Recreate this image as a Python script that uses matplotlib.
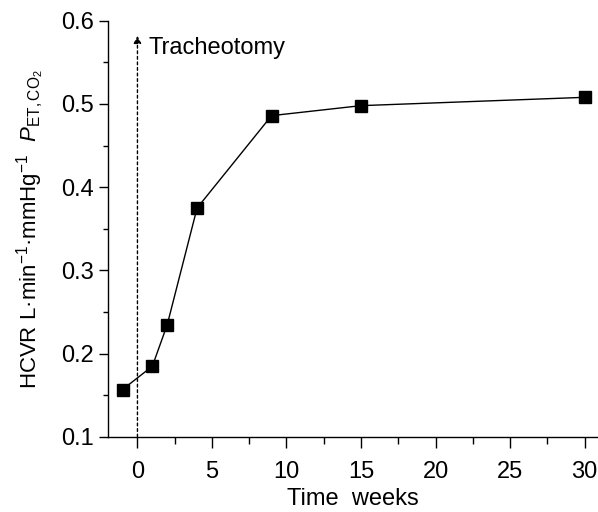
import matplotlib
matplotlib.use('Agg')
import matplotlib.pyplot as plt
from matplotlib.ticker import MultipleLocator

# Daten
weeks = [-1, 1, 2, 4, 9, 15, 30]
hcvr = [0.157, 0.185, 0.235, 0.375, 0.486, 0.498, 0.508]

xticks = [0, 5, 10, 15, 20, 25, 30]
yticks = [0.1, 0.2, 0.3, 0.4, 0.5, 0.6]

plt.rcParams['font.family'] = ['Liberation Sans', 'DejaVu Sans']
plt.rcParams['mathtext.fontset'] = 'custom'
plt.rcParams['mathtext.rm'] = 'Liberation Sans'
plt.rcParams['mathtext.it'] = 'Liberation Sans:italic'

fig = plt.figure(figsize=(5.98, 5.12), dpi=100)
ax = fig.add_axes([0.181, 0.1465, 0.819, 0.813])

ax.plot(weeks, hcvr, color='black', linewidth=1.0, marker='s', markersize=8)

# Tracheotomie-Pfeil
ax.annotate('', xy=(0, 0.582), xytext=(0, 0.1),
            arrowprops=dict(arrowstyle='-|>', linestyle=(0, (2, 2)), color='black',
                            linewidth=1.0, mutation_scale=11, shrinkA=0, shrinkB=0))
ax.text(0.75, 0.567, 'Tracheotomy', fontsize=17, va='center', ha='left')

ax.set_xlim(-1.96, 30.9)
ax.set_ylim(0.1, 0.6)
ax.set_xticks(xticks)
ax.set_yticks(yticks)
ax.set_yticklabels([f'{v:.1f}' for v in yticks])
ax.xaxis.set_minor_locator(MultipleLocator(2.5))
ax.yaxis.set_minor_locator(MultipleLocator(0.05))

for s in ['top', 'right']:
    ax.spines[s].set_visible(False)
for s in ['left', 'bottom']:
    ax.spines[s].set_linewidth(1.0)

ax.tick_params(axis='x', which='major', length=8, width=1.0, labelsize=17, pad=9)
ax.tick_params(axis='x', which='minor', length=4.8, width=1.0)
ax.tick_params(axis='y', which='major', length=6.5, width=1.0, labelsize=17, pad=4)
ax.tick_params(axis='y', which='minor', length=3.6, width=1.0)

ax.set_xlabel('Time  weeks', fontsize=17, labelpad=4)
ax.set_ylabel(r'HCVR L·min$^{\mathregular{-1}}$·mmHg$^{\mathregular{-1}}$  $P_{\mathregular{ET,CO_2}}$',
              fontsize=16, labelpad=10)

fig.savefig('out.png', dpi=100)
